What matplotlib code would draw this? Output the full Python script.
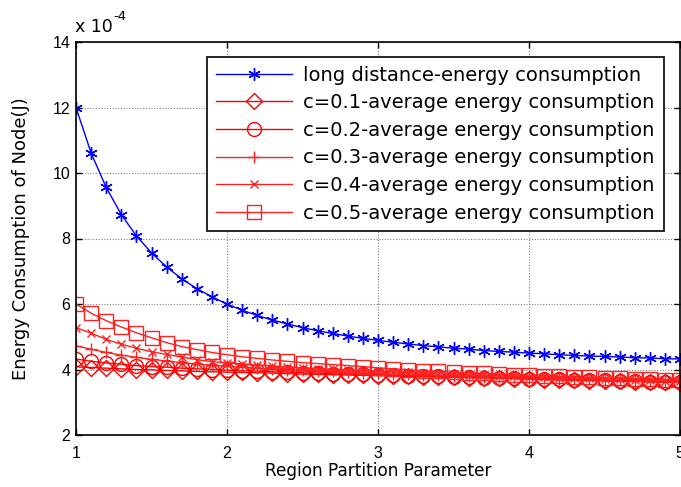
import matplotlib
matplotlib.use("Agg")
import matplotlib.pyplot as plt

plt.rcParams['font.family'] = ['Liberation Sans', 'DejaVu Sans']

# Region partition parameter (x axis)
x_vals = [1.0, 1.1, 1.2, 1.3, 1.4, 1.5, 1.6, 1.7, 1.8, 1.9,
          2.0, 2.1, 2.2, 2.3, 2.4, 2.5, 2.6, 2.7, 2.8, 2.9,
          3.0, 3.1, 3.2, 3.3, 3.4, 3.5, 3.6, 3.7, 3.8, 3.9,
          4.0, 4.1, 4.2, 4.3, 4.4, 4.5, 4.6, 4.7, 4.8, 4.9, 5.0]

# Energy consumption values, in units of 1e-4 J
long_distance = [12.00, 10.61, 9.56, 8.73, 8.08, 7.56, 7.13, 6.77, 6.47, 6.22,
                 6.00, 5.81, 5.65, 5.51, 5.39, 5.28, 5.18, 5.10, 5.02, 4.95,
                 4.89, 4.83, 4.78, 4.73, 4.69, 4.65, 4.62, 4.58, 4.55, 4.53,
                 4.50, 4.48, 4.45, 4.43, 4.41, 4.40, 4.38, 4.36, 4.35, 4.33, 4.32]
c01 = [4.08, 4.06, 4.04, 4.02, 4.00, 3.99, 3.97, 3.96, 3.94, 3.93,
       3.92, 3.91, 3.90, 3.89, 3.87, 3.86, 3.85, 3.84, 3.83, 3.82,
       3.81, 3.80, 3.79, 3.78, 3.77, 3.76, 3.75, 3.74, 3.73, 3.72,
       3.71, 3.69, 3.68, 3.67, 3.66, 3.65, 3.64, 3.63, 3.62, 3.61, 3.60]
c02 = [4.32, 4.25, 4.20, 4.16, 4.12, 4.09, 4.07, 4.04, 4.02, 4.00,
       3.98, 3.96, 3.95, 3.93, 3.92, 3.90, 3.89, 3.87, 3.86, 3.85,
       3.84, 3.82, 3.81, 3.80, 3.79, 3.78, 3.76, 3.75, 3.74, 3.73,
       3.72, 3.71, 3.70, 3.69, 3.68, 3.67, 3.66, 3.64, 3.63, 3.62, 3.61]
c03 = [4.72, 4.62, 4.52, 4.44, 4.37, 4.31, 4.26, 4.21, 4.17, 4.13,
       4.10, 4.07, 4.04, 4.02, 4.00, 3.98, 3.96, 3.94, 3.92, 3.90,
       3.88, 3.86, 3.85, 3.84, 3.82, 3.81, 3.80, 3.78, 3.77, 3.76,
       3.75, 3.73, 3.72, 3.71, 3.70, 3.69, 3.67, 3.66, 3.65, 3.64, 3.63]
c04 = [5.28, 5.11, 4.92, 4.77, 4.65, 4.54, 4.46, 4.38, 4.30, 4.24,
       4.20, 4.17, 4.14, 4.11, 4.08, 4.05, 4.03, 4.01, 3.98, 3.96,
       3.94, 3.92, 3.91, 3.89, 3.87, 3.85, 3.84, 3.82, 3.81, 3.79,
       3.78, 3.77, 3.75, 3.74, 3.73, 3.71, 3.70, 3.69, 3.68, 3.66, 3.65]
c05 = [6.00, 5.72, 5.49, 5.30, 5.12, 4.97, 4.82, 4.70, 4.61, 4.52,
       4.45, 4.39, 4.34, 4.29, 4.25, 4.21, 4.18, 4.15, 4.12, 4.09,
       4.05, 4.02, 3.99, 3.96, 3.94, 3.92, 3.90, 3.88, 3.86, 3.84,
       3.83, 3.81, 3.79, 3.78, 3.76, 3.75, 3.73, 3.72, 3.71, 3.69, 3.68]

labels = ["long distance-energy consumption",
          "c=0.1-average energy consumption",
          "c=0.2-average energy consumption",
          "c=0.3-average energy consumption",
          "c=0.4-average energy consumption",
          "c=0.5-average energy consumption"]

x_ticks = [1, 2, 3, 4, 5]
y_ticks = [2, 4, 6, 8, 10, 12, 14]

fig = plt.figure(figsize=(6.81, 4.87), dpi=100)
ax = fig.add_axes([76 / 681, 1 - 435 / 487, 604 / 681, 393 / 487])

asterisk = (6, 2, 0)
ax.plot(x_vals, long_distance, color='#0000ff', lw=1.0, marker=asterisk,
        ms=9, mew=1.0, label=labels[0])
ax.plot(x_vals, c01, color='#ff0000', lw=1.0, marker='D', ms=8.5,
        mfc='none', mew=1.0, label=labels[1])
ax.plot(x_vals, c02, color='#ff0000', lw=1.0, marker='o', ms=10,
        mfc='none', mew=1.0, label=labels[2])
ax.plot(x_vals, c03, color='#ff2020', lw=1.0, marker='+', ms=9,
        mew=1.0, label=labels[3])
ax.plot(x_vals, c04, color='#ff2020', lw=1.0, marker='x', ms=5.5,
        mew=1.0, label=labels[4])
ax.plot(x_vals, c05, color='#ff2020', lw=1.0, marker='s', ms=10,
        mfc='none', mew=1.0, label=labels[5])

ax.set_xlim(1, 5)
ax.set_ylim(2, 14)
ax.set_xticks(x_ticks)
ax.set_yticks(y_ticks)
ax.set_xticklabels([str(v) for v in x_ticks])
ax.set_yticklabels([str(v) for v in y_ticks])
ax.tick_params(direction='in', length=4, width=1.0, labelsize=11.5,
               top=True, right=True, colors='black')
ax.tick_params(axis='x', pad=8)
ax.tick_params(axis='y', pad=4)
ax.grid(True, color='#808080', linestyle=(0, (1, 1.5)), linewidth=0.8)
ax.set_axisbelow(True)
for sp in ax.spines.values():
    sp.set_linewidth(1.2)
    sp.set_color('black')

ax.set_xlabel("Region Partition Parameter", labelpad=1,
              family=['DejaVu Sans'], fontsize=12.2)
ax.set_ylabel("Energy Consumption of Node(J)", labelpad=16,
              family=['DejaVu Sans'], fontsize=13)

# scale factor above the y axis
fig.text(75 / 681, 1 - 32 / 487, "x 10", fontsize=12.5, va='baseline', ha='left',
         family=['DejaVu Sans'])
fig.text(113 / 681, 1 - 20 / 487, "-4", fontsize=9.5, va='baseline', ha='left',
         family=['DejaVu Sans'])

leg = ax.legend(loc='upper left', bbox_to_anchor=((207 - 76) / 604, 1 - (57 - 42) / 393),
                prop=dict(family=['DejaVu Sans'], size=14.0),
                frameon=True, fancybox=False, edgecolor='black',
                framealpha=1.0, handlelength=3.9, handletextpad=0.6,
                labelspacing=0.44, borderpad=0.45, borderaxespad=0.0)
leg.get_frame().set_linewidth(1.2)

fig.savefig("out.png", dpi=100)
